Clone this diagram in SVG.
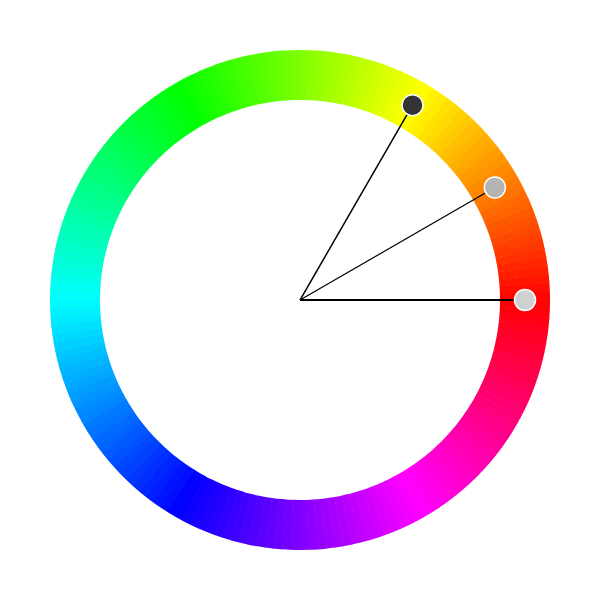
<svg xmlns="http://www.w3.org/2000/svg" width="600" height="600" viewBox="0 0 600 600">
<style>
.s{fill:none;stroke-width:50;stroke-dasharray:2.15 400}
.ln{stroke:#000;fill:none}
.h{stroke:#fff;stroke-width:1.5}
</style>
<rect width="600" height="600" fill="#fff"/>
<g id="wheel">
<circle class="s" cx="300" cy="300" r="225" pathLength="360" transform="rotate(-2 300 300)" stroke="hsl(1,100%,50%)"/>
<circle class="s" cx="300" cy="300" r="225" pathLength="360" transform="rotate(-4 300 300)" stroke="hsl(3,100%,50%)"/>
<circle class="s" cx="300" cy="300" r="225" pathLength="360" transform="rotate(-6 300 300)" stroke="hsl(5,100%,50%)"/>
<circle class="s" cx="300" cy="300" r="225" pathLength="360" transform="rotate(-8 300 300)" stroke="hsl(7,100%,50%)"/>
<circle class="s" cx="300" cy="300" r="225" pathLength="360" transform="rotate(-10 300 300)" stroke="hsl(9,100%,50%)"/>
<circle class="s" cx="300" cy="300" r="225" pathLength="360" transform="rotate(-12 300 300)" stroke="hsl(11,100%,50%)"/>
<circle class="s" cx="300" cy="300" r="225" pathLength="360" transform="rotate(-14 300 300)" stroke="hsl(13,100%,50%)"/>
<circle class="s" cx="300" cy="300" r="225" pathLength="360" transform="rotate(-16 300 300)" stroke="hsl(15,100%,50%)"/>
<circle class="s" cx="300" cy="300" r="225" pathLength="360" transform="rotate(-18 300 300)" stroke="hsl(17,100%,50%)"/>
<circle class="s" cx="300" cy="300" r="225" pathLength="360" transform="rotate(-20 300 300)" stroke="hsl(19,100%,50%)"/>
<circle class="s" cx="300" cy="300" r="225" pathLength="360" transform="rotate(-22 300 300)" stroke="hsl(21,100%,50%)"/>
<circle class="s" cx="300" cy="300" r="225" pathLength="360" transform="rotate(-24 300 300)" stroke="hsl(23,100%,50%)"/>
<circle class="s" cx="300" cy="300" r="225" pathLength="360" transform="rotate(-26 300 300)" stroke="hsl(25,100%,50%)"/>
<circle class="s" cx="300" cy="300" r="225" pathLength="360" transform="rotate(-28 300 300)" stroke="hsl(27,100%,50%)"/>
<circle class="s" cx="300" cy="300" r="225" pathLength="360" transform="rotate(-30 300 300)" stroke="hsl(29,100%,50%)"/>
<circle class="s" cx="300" cy="300" r="225" pathLength="360" transform="rotate(-32 300 300)" stroke="hsl(31,100%,50%)"/>
<circle class="s" cx="300" cy="300" r="225" pathLength="360" transform="rotate(-34 300 300)" stroke="hsl(33,100%,50%)"/>
<circle class="s" cx="300" cy="300" r="225" pathLength="360" transform="rotate(-36 300 300)" stroke="hsl(35,100%,50%)"/>
<circle class="s" cx="300" cy="300" r="225" pathLength="360" transform="rotate(-38 300 300)" stroke="hsl(37,100%,50%)"/>
<circle class="s" cx="300" cy="300" r="225" pathLength="360" transform="rotate(-40 300 300)" stroke="hsl(39,100%,50%)"/>
<circle class="s" cx="300" cy="300" r="225" pathLength="360" transform="rotate(-42 300 300)" stroke="hsl(41,100%,50%)"/>
<circle class="s" cx="300" cy="300" r="225" pathLength="360" transform="rotate(-44 300 300)" stroke="hsl(43,100%,50%)"/>
<circle class="s" cx="300" cy="300" r="225" pathLength="360" transform="rotate(-46 300 300)" stroke="hsl(45,100%,50%)"/>
<circle class="s" cx="300" cy="300" r="225" pathLength="360" transform="rotate(-48 300 300)" stroke="hsl(47,100%,50%)"/>
<circle class="s" cx="300" cy="300" r="225" pathLength="360" transform="rotate(-50 300 300)" stroke="hsl(49,100%,50%)"/>
<circle class="s" cx="300" cy="300" r="225" pathLength="360" transform="rotate(-52 300 300)" stroke="hsl(51,100%,50%)"/>
<circle class="s" cx="300" cy="300" r="225" pathLength="360" transform="rotate(-54 300 300)" stroke="hsl(53,100%,50%)"/>
<circle class="s" cx="300" cy="300" r="225" pathLength="360" transform="rotate(-56 300 300)" stroke="hsl(55,100%,50%)"/>
<circle class="s" cx="300" cy="300" r="225" pathLength="360" transform="rotate(-58 300 300)" stroke="hsl(57,100%,50%)"/>
<circle class="s" cx="300" cy="300" r="225" pathLength="360" transform="rotate(-60 300 300)" stroke="hsl(59,100%,50%)"/>
<circle class="s" cx="300" cy="300" r="225" pathLength="360" transform="rotate(-62 300 300)" stroke="hsl(61,100%,50%)"/>
<circle class="s" cx="300" cy="300" r="225" pathLength="360" transform="rotate(-64 300 300)" stroke="hsl(63,100%,50%)"/>
<circle class="s" cx="300" cy="300" r="225" pathLength="360" transform="rotate(-66 300 300)" stroke="hsl(65,100%,50%)"/>
<circle class="s" cx="300" cy="300" r="225" pathLength="360" transform="rotate(-68 300 300)" stroke="hsl(67,100%,50%)"/>
<circle class="s" cx="300" cy="300" r="225" pathLength="360" transform="rotate(-70 300 300)" stroke="hsl(69,100%,50%)"/>
<circle class="s" cx="300" cy="300" r="225" pathLength="360" transform="rotate(-72 300 300)" stroke="hsl(71,100%,50%)"/>
<circle class="s" cx="300" cy="300" r="225" pathLength="360" transform="rotate(-74 300 300)" stroke="hsl(73,100%,50%)"/>
<circle class="s" cx="300" cy="300" r="225" pathLength="360" transform="rotate(-76 300 300)" stroke="hsl(75,100%,50%)"/>
<circle class="s" cx="300" cy="300" r="225" pathLength="360" transform="rotate(-78 300 300)" stroke="hsl(77,100%,50%)"/>
<circle class="s" cx="300" cy="300" r="225" pathLength="360" transform="rotate(-80 300 300)" stroke="hsl(79,100%,50%)"/>
<circle class="s" cx="300" cy="300" r="225" pathLength="360" transform="rotate(-82 300 300)" stroke="hsl(81,100%,50%)"/>
<circle class="s" cx="300" cy="300" r="225" pathLength="360" transform="rotate(-84 300 300)" stroke="hsl(83,100%,50%)"/>
<circle class="s" cx="300" cy="300" r="225" pathLength="360" transform="rotate(-86 300 300)" stroke="hsl(85,100%,50%)"/>
<circle class="s" cx="300" cy="300" r="225" pathLength="360" transform="rotate(-88 300 300)" stroke="hsl(87,100%,50%)"/>
<circle class="s" cx="300" cy="300" r="225" pathLength="360" transform="rotate(-90 300 300)" stroke="hsl(89,100%,50%)"/>
<circle class="s" cx="300" cy="300" r="225" pathLength="360" transform="rotate(-92 300 300)" stroke="hsl(91,100%,50%)"/>
<circle class="s" cx="300" cy="300" r="225" pathLength="360" transform="rotate(-94 300 300)" stroke="hsl(93,100%,50%)"/>
<circle class="s" cx="300" cy="300" r="225" pathLength="360" transform="rotate(-96 300 300)" stroke="hsl(95,100%,50%)"/>
<circle class="s" cx="300" cy="300" r="225" pathLength="360" transform="rotate(-98 300 300)" stroke="hsl(97,100%,50%)"/>
<circle class="s" cx="300" cy="300" r="225" pathLength="360" transform="rotate(-100 300 300)" stroke="hsl(99,100%,50%)"/>
<circle class="s" cx="300" cy="300" r="225" pathLength="360" transform="rotate(-102 300 300)" stroke="hsl(101,100%,50%)"/>
<circle class="s" cx="300" cy="300" r="225" pathLength="360" transform="rotate(-104 300 300)" stroke="hsl(103,100%,50%)"/>
<circle class="s" cx="300" cy="300" r="225" pathLength="360" transform="rotate(-106 300 300)" stroke="hsl(105,100%,50%)"/>
<circle class="s" cx="300" cy="300" r="225" pathLength="360" transform="rotate(-108 300 300)" stroke="hsl(107,100%,50%)"/>
<circle class="s" cx="300" cy="300" r="225" pathLength="360" transform="rotate(-110 300 300)" stroke="hsl(109,100%,50%)"/>
<circle class="s" cx="300" cy="300" r="225" pathLength="360" transform="rotate(-112 300 300)" stroke="hsl(111,100%,50%)"/>
<circle class="s" cx="300" cy="300" r="225" pathLength="360" transform="rotate(-114 300 300)" stroke="hsl(113,100%,50%)"/>
<circle class="s" cx="300" cy="300" r="225" pathLength="360" transform="rotate(-116 300 300)" stroke="hsl(115,100%,50%)"/>
<circle class="s" cx="300" cy="300" r="225" pathLength="360" transform="rotate(-118 300 300)" stroke="hsl(117,100%,50%)"/>
<circle class="s" cx="300" cy="300" r="225" pathLength="360" transform="rotate(-120 300 300)" stroke="hsl(119,100%,50%)"/>
<circle class="s" cx="300" cy="300" r="225" pathLength="360" transform="rotate(-122 300 300)" stroke="hsl(121,100%,50%)"/>
<circle class="s" cx="300" cy="300" r="225" pathLength="360" transform="rotate(-124 300 300)" stroke="hsl(123,100%,50%)"/>
<circle class="s" cx="300" cy="300" r="225" pathLength="360" transform="rotate(-126 300 300)" stroke="hsl(125,100%,50%)"/>
<circle class="s" cx="300" cy="300" r="225" pathLength="360" transform="rotate(-128 300 300)" stroke="hsl(127,100%,50%)"/>
<circle class="s" cx="300" cy="300" r="225" pathLength="360" transform="rotate(-130 300 300)" stroke="hsl(129,100%,50%)"/>
<circle class="s" cx="300" cy="300" r="225" pathLength="360" transform="rotate(-132 300 300)" stroke="hsl(131,100%,50%)"/>
<circle class="s" cx="300" cy="300" r="225" pathLength="360" transform="rotate(-134 300 300)" stroke="hsl(133,100%,50%)"/>
<circle class="s" cx="300" cy="300" r="225" pathLength="360" transform="rotate(-136 300 300)" stroke="hsl(135,100%,50%)"/>
<circle class="s" cx="300" cy="300" r="225" pathLength="360" transform="rotate(-138 300 300)" stroke="hsl(137,100%,50%)"/>
<circle class="s" cx="300" cy="300" r="225" pathLength="360" transform="rotate(-140 300 300)" stroke="hsl(139,100%,50%)"/>
<circle class="s" cx="300" cy="300" r="225" pathLength="360" transform="rotate(-142 300 300)" stroke="hsl(141,100%,50%)"/>
<circle class="s" cx="300" cy="300" r="225" pathLength="360" transform="rotate(-144 300 300)" stroke="hsl(143,100%,50%)"/>
<circle class="s" cx="300" cy="300" r="225" pathLength="360" transform="rotate(-146 300 300)" stroke="hsl(145,100%,50%)"/>
<circle class="s" cx="300" cy="300" r="225" pathLength="360" transform="rotate(-148 300 300)" stroke="hsl(147,100%,50%)"/>
<circle class="s" cx="300" cy="300" r="225" pathLength="360" transform="rotate(-150 300 300)" stroke="hsl(149,100%,50%)"/>
<circle class="s" cx="300" cy="300" r="225" pathLength="360" transform="rotate(-152 300 300)" stroke="hsl(151,100%,50%)"/>
<circle class="s" cx="300" cy="300" r="225" pathLength="360" transform="rotate(-154 300 300)" stroke="hsl(153,100%,50%)"/>
<circle class="s" cx="300" cy="300" r="225" pathLength="360" transform="rotate(-156 300 300)" stroke="hsl(155,100%,50%)"/>
<circle class="s" cx="300" cy="300" r="225" pathLength="360" transform="rotate(-158 300 300)" stroke="hsl(157,100%,50%)"/>
<circle class="s" cx="300" cy="300" r="225" pathLength="360" transform="rotate(-160 300 300)" stroke="hsl(159,100%,50%)"/>
<circle class="s" cx="300" cy="300" r="225" pathLength="360" transform="rotate(-162 300 300)" stroke="hsl(161,100%,50%)"/>
<circle class="s" cx="300" cy="300" r="225" pathLength="360" transform="rotate(-164 300 300)" stroke="hsl(163,100%,50%)"/>
<circle class="s" cx="300" cy="300" r="225" pathLength="360" transform="rotate(-166 300 300)" stroke="hsl(165,100%,50%)"/>
<circle class="s" cx="300" cy="300" r="225" pathLength="360" transform="rotate(-168 300 300)" stroke="hsl(167,100%,50%)"/>
<circle class="s" cx="300" cy="300" r="225" pathLength="360" transform="rotate(-170 300 300)" stroke="hsl(169,100%,50%)"/>
<circle class="s" cx="300" cy="300" r="225" pathLength="360" transform="rotate(-172 300 300)" stroke="hsl(171,100%,50%)"/>
<circle class="s" cx="300" cy="300" r="225" pathLength="360" transform="rotate(-174 300 300)" stroke="hsl(173,100%,50%)"/>
<circle class="s" cx="300" cy="300" r="225" pathLength="360" transform="rotate(-176 300 300)" stroke="hsl(175,100%,50%)"/>
<circle class="s" cx="300" cy="300" r="225" pathLength="360" transform="rotate(-178 300 300)" stroke="hsl(177,100%,50%)"/>
<circle class="s" cx="300" cy="300" r="225" pathLength="360" transform="rotate(-180 300 300)" stroke="hsl(179,100%,50%)"/>
<circle class="s" cx="300" cy="300" r="225" pathLength="360" transform="rotate(-182 300 300)" stroke="hsl(181,100%,50%)"/>
<circle class="s" cx="300" cy="300" r="225" pathLength="360" transform="rotate(-184 300 300)" stroke="hsl(183,100%,50%)"/>
<circle class="s" cx="300" cy="300" r="225" pathLength="360" transform="rotate(-186 300 300)" stroke="hsl(185,100%,50%)"/>
<circle class="s" cx="300" cy="300" r="225" pathLength="360" transform="rotate(-188 300 300)" stroke="hsl(187,100%,50%)"/>
<circle class="s" cx="300" cy="300" r="225" pathLength="360" transform="rotate(-190 300 300)" stroke="hsl(189,100%,50%)"/>
<circle class="s" cx="300" cy="300" r="225" pathLength="360" transform="rotate(-192 300 300)" stroke="hsl(191,100%,50%)"/>
<circle class="s" cx="300" cy="300" r="225" pathLength="360" transform="rotate(-194 300 300)" stroke="hsl(193,100%,50%)"/>
<circle class="s" cx="300" cy="300" r="225" pathLength="360" transform="rotate(-196 300 300)" stroke="hsl(195,100%,50%)"/>
<circle class="s" cx="300" cy="300" r="225" pathLength="360" transform="rotate(-198 300 300)" stroke="hsl(197,100%,50%)"/>
<circle class="s" cx="300" cy="300" r="225" pathLength="360" transform="rotate(-200 300 300)" stroke="hsl(199,100%,50%)"/>
<circle class="s" cx="300" cy="300" r="225" pathLength="360" transform="rotate(-202 300 300)" stroke="hsl(201,100%,50%)"/>
<circle class="s" cx="300" cy="300" r="225" pathLength="360" transform="rotate(-204 300 300)" stroke="hsl(203,100%,50%)"/>
<circle class="s" cx="300" cy="300" r="225" pathLength="360" transform="rotate(-206 300 300)" stroke="hsl(205,100%,50%)"/>
<circle class="s" cx="300" cy="300" r="225" pathLength="360" transform="rotate(-208 300 300)" stroke="hsl(207,100%,50%)"/>
<circle class="s" cx="300" cy="300" r="225" pathLength="360" transform="rotate(-210 300 300)" stroke="hsl(209,100%,50%)"/>
<circle class="s" cx="300" cy="300" r="225" pathLength="360" transform="rotate(-212 300 300)" stroke="hsl(211,100%,50%)"/>
<circle class="s" cx="300" cy="300" r="225" pathLength="360" transform="rotate(-214 300 300)" stroke="hsl(213,100%,50%)"/>
<circle class="s" cx="300" cy="300" r="225" pathLength="360" transform="rotate(-216 300 300)" stroke="hsl(215,100%,50%)"/>
<circle class="s" cx="300" cy="300" r="225" pathLength="360" transform="rotate(-218 300 300)" stroke="hsl(217,100%,50%)"/>
<circle class="s" cx="300" cy="300" r="225" pathLength="360" transform="rotate(-220 300 300)" stroke="hsl(219,100%,50%)"/>
<circle class="s" cx="300" cy="300" r="225" pathLength="360" transform="rotate(-222 300 300)" stroke="hsl(221,100%,50%)"/>
<circle class="s" cx="300" cy="300" r="225" pathLength="360" transform="rotate(-224 300 300)" stroke="hsl(223,100%,50%)"/>
<circle class="s" cx="300" cy="300" r="225" pathLength="360" transform="rotate(-226 300 300)" stroke="hsl(225,100%,50%)"/>
<circle class="s" cx="300" cy="300" r="225" pathLength="360" transform="rotate(-228 300 300)" stroke="hsl(227,100%,50%)"/>
<circle class="s" cx="300" cy="300" r="225" pathLength="360" transform="rotate(-230 300 300)" stroke="hsl(229,100%,50%)"/>
<circle class="s" cx="300" cy="300" r="225" pathLength="360" transform="rotate(-232 300 300)" stroke="hsl(231,100%,50%)"/>
<circle class="s" cx="300" cy="300" r="225" pathLength="360" transform="rotate(-234 300 300)" stroke="hsl(233,100%,50%)"/>
<circle class="s" cx="300" cy="300" r="225" pathLength="360" transform="rotate(-236 300 300)" stroke="hsl(235,100%,50%)"/>
<circle class="s" cx="300" cy="300" r="225" pathLength="360" transform="rotate(-238 300 300)" stroke="hsl(237,100%,50%)"/>
<circle class="s" cx="300" cy="300" r="225" pathLength="360" transform="rotate(-240 300 300)" stroke="hsl(239,100%,50%)"/>
<circle class="s" cx="300" cy="300" r="225" pathLength="360" transform="rotate(-242 300 300)" stroke="hsl(241,100%,50%)"/>
<circle class="s" cx="300" cy="300" r="225" pathLength="360" transform="rotate(-244 300 300)" stroke="hsl(243,100%,50%)"/>
<circle class="s" cx="300" cy="300" r="225" pathLength="360" transform="rotate(-246 300 300)" stroke="hsl(245,100%,50%)"/>
<circle class="s" cx="300" cy="300" r="225" pathLength="360" transform="rotate(-248 300 300)" stroke="hsl(247,100%,50%)"/>
<circle class="s" cx="300" cy="300" r="225" pathLength="360" transform="rotate(-250 300 300)" stroke="hsl(249,100%,50%)"/>
<circle class="s" cx="300" cy="300" r="225" pathLength="360" transform="rotate(-252 300 300)" stroke="hsl(251,100%,50%)"/>
<circle class="s" cx="300" cy="300" r="225" pathLength="360" transform="rotate(-254 300 300)" stroke="hsl(253,100%,50%)"/>
<circle class="s" cx="300" cy="300" r="225" pathLength="360" transform="rotate(-256 300 300)" stroke="hsl(255,100%,50%)"/>
<circle class="s" cx="300" cy="300" r="225" pathLength="360" transform="rotate(-258 300 300)" stroke="hsl(257,100%,50%)"/>
<circle class="s" cx="300" cy="300" r="225" pathLength="360" transform="rotate(-260 300 300)" stroke="hsl(259,100%,50%)"/>
<circle class="s" cx="300" cy="300" r="225" pathLength="360" transform="rotate(-262 300 300)" stroke="hsl(261,100%,50%)"/>
<circle class="s" cx="300" cy="300" r="225" pathLength="360" transform="rotate(-264 300 300)" stroke="hsl(263,100%,50%)"/>
<circle class="s" cx="300" cy="300" r="225" pathLength="360" transform="rotate(-266 300 300)" stroke="hsl(265,100%,50%)"/>
<circle class="s" cx="300" cy="300" r="225" pathLength="360" transform="rotate(-268 300 300)" stroke="hsl(267,100%,50%)"/>
<circle class="s" cx="300" cy="300" r="225" pathLength="360" transform="rotate(-270 300 300)" stroke="hsl(269,100%,50%)"/>
<circle class="s" cx="300" cy="300" r="225" pathLength="360" transform="rotate(-272 300 300)" stroke="hsl(271,100%,50%)"/>
<circle class="s" cx="300" cy="300" r="225" pathLength="360" transform="rotate(-274 300 300)" stroke="hsl(273,100%,50%)"/>
<circle class="s" cx="300" cy="300" r="225" pathLength="360" transform="rotate(-276 300 300)" stroke="hsl(275,100%,50%)"/>
<circle class="s" cx="300" cy="300" r="225" pathLength="360" transform="rotate(-278 300 300)" stroke="hsl(277,100%,50%)"/>
<circle class="s" cx="300" cy="300" r="225" pathLength="360" transform="rotate(-280 300 300)" stroke="hsl(279,100%,50%)"/>
<circle class="s" cx="300" cy="300" r="225" pathLength="360" transform="rotate(-282 300 300)" stroke="hsl(281,100%,50%)"/>
<circle class="s" cx="300" cy="300" r="225" pathLength="360" transform="rotate(-284 300 300)" stroke="hsl(283,100%,50%)"/>
<circle class="s" cx="300" cy="300" r="225" pathLength="360" transform="rotate(-286 300 300)" stroke="hsl(285,100%,50%)"/>
<circle class="s" cx="300" cy="300" r="225" pathLength="360" transform="rotate(-288 300 300)" stroke="hsl(287,100%,50%)"/>
<circle class="s" cx="300" cy="300" r="225" pathLength="360" transform="rotate(-290 300 300)" stroke="hsl(289,100%,50%)"/>
<circle class="s" cx="300" cy="300" r="225" pathLength="360" transform="rotate(-292 300 300)" stroke="hsl(291,100%,50%)"/>
<circle class="s" cx="300" cy="300" r="225" pathLength="360" transform="rotate(-294 300 300)" stroke="hsl(293,100%,50%)"/>
<circle class="s" cx="300" cy="300" r="225" pathLength="360" transform="rotate(-296 300 300)" stroke="hsl(295,100%,50%)"/>
<circle class="s" cx="300" cy="300" r="225" pathLength="360" transform="rotate(-298 300 300)" stroke="hsl(297,100%,50%)"/>
<circle class="s" cx="300" cy="300" r="225" pathLength="360" transform="rotate(-300 300 300)" stroke="hsl(299,100%,50%)"/>
<circle class="s" cx="300" cy="300" r="225" pathLength="360" transform="rotate(-302 300 300)" stroke="hsl(301,100%,50%)"/>
<circle class="s" cx="300" cy="300" r="225" pathLength="360" transform="rotate(-304 300 300)" stroke="hsl(303,100%,50%)"/>
<circle class="s" cx="300" cy="300" r="225" pathLength="360" transform="rotate(-306 300 300)" stroke="hsl(305,100%,50%)"/>
<circle class="s" cx="300" cy="300" r="225" pathLength="360" transform="rotate(-308 300 300)" stroke="hsl(307,100%,50%)"/>
<circle class="s" cx="300" cy="300" r="225" pathLength="360" transform="rotate(-310 300 300)" stroke="hsl(309,100%,50%)"/>
<circle class="s" cx="300" cy="300" r="225" pathLength="360" transform="rotate(-312 300 300)" stroke="hsl(311,100%,50%)"/>
<circle class="s" cx="300" cy="300" r="225" pathLength="360" transform="rotate(-314 300 300)" stroke="hsl(313,100%,50%)"/>
<circle class="s" cx="300" cy="300" r="225" pathLength="360" transform="rotate(-316 300 300)" stroke="hsl(315,100%,50%)"/>
<circle class="s" cx="300" cy="300" r="225" pathLength="360" transform="rotate(-318 300 300)" stroke="hsl(317,100%,50%)"/>
<circle class="s" cx="300" cy="300" r="225" pathLength="360" transform="rotate(-320 300 300)" stroke="hsl(319,100%,50%)"/>
<circle class="s" cx="300" cy="300" r="225" pathLength="360" transform="rotate(-322 300 300)" stroke="hsl(321,100%,50%)"/>
<circle class="s" cx="300" cy="300" r="225" pathLength="360" transform="rotate(-324 300 300)" stroke="hsl(323,100%,50%)"/>
<circle class="s" cx="300" cy="300" r="225" pathLength="360" transform="rotate(-326 300 300)" stroke="hsl(325,100%,50%)"/>
<circle class="s" cx="300" cy="300" r="225" pathLength="360" transform="rotate(-328 300 300)" stroke="hsl(327,100%,50%)"/>
<circle class="s" cx="300" cy="300" r="225" pathLength="360" transform="rotate(-330 300 300)" stroke="hsl(329,100%,50%)"/>
<circle class="s" cx="300" cy="300" r="225" pathLength="360" transform="rotate(-332 300 300)" stroke="hsl(331,100%,50%)"/>
<circle class="s" cx="300" cy="300" r="225" pathLength="360" transform="rotate(-334 300 300)" stroke="hsl(333,100%,50%)"/>
<circle class="s" cx="300" cy="300" r="225" pathLength="360" transform="rotate(-336 300 300)" stroke="hsl(335,100%,50%)"/>
<circle class="s" cx="300" cy="300" r="225" pathLength="360" transform="rotate(-338 300 300)" stroke="hsl(337,100%,50%)"/>
<circle class="s" cx="300" cy="300" r="225" pathLength="360" transform="rotate(-340 300 300)" stroke="hsl(339,100%,50%)"/>
<circle class="s" cx="300" cy="300" r="225" pathLength="360" transform="rotate(-342 300 300)" stroke="hsl(341,100%,50%)"/>
<circle class="s" cx="300" cy="300" r="225" pathLength="360" transform="rotate(-344 300 300)" stroke="hsl(343,100%,50%)"/>
<circle class="s" cx="300" cy="300" r="225" pathLength="360" transform="rotate(-346 300 300)" stroke="hsl(345,100%,50%)"/>
<circle class="s" cx="300" cy="300" r="225" pathLength="360" transform="rotate(-348 300 300)" stroke="hsl(347,100%,50%)"/>
<circle class="s" cx="300" cy="300" r="225" pathLength="360" transform="rotate(-350 300 300)" stroke="hsl(349,100%,50%)"/>
<circle class="s" cx="300" cy="300" r="225" pathLength="360" transform="rotate(-352 300 300)" stroke="hsl(351,100%,50%)"/>
<circle class="s" cx="300" cy="300" r="225" pathLength="360" transform="rotate(-354 300 300)" stroke="hsl(353,100%,50%)"/>
<circle class="s" cx="300" cy="300" r="225" pathLength="360" transform="rotate(-356 300 300)" stroke="hsl(355,100%,50%)"/>
<circle class="s" cx="300" cy="300" r="225" pathLength="360" transform="rotate(-358 300 300)" stroke="hsl(357,100%,50%)"/>
<circle class="s" cx="300" cy="300" r="225" pathLength="360" transform="rotate(-360 300 300)" stroke="hsl(359,100%,50%)"/>
</g>
<g id="connectors">
<line class="ln" x1="300" y1="300" x2="525" y2="300" stroke-width="2"/>
<line class="ln" x1="300" y1="300" x2="494.86" y2="187.5" stroke-width="1.2"/>
<line class="ln" x1="300" y1="300" x2="412.5" y2="105.14" stroke-width="1.5"/>
</g>
<g id="handle-0"><circle class="h" cx="525" cy="300" r="10.5" fill="#d0d0d0"/></g>
<g id="handle-30"><circle class="h" cx="494.86" cy="187.5" r="10.5" fill="#b3b3b3"/></g>
<g id="handle-60"><circle class="h" cx="412.5" cy="105.14" r="10.5" fill="#333333"/></g>
</svg>
